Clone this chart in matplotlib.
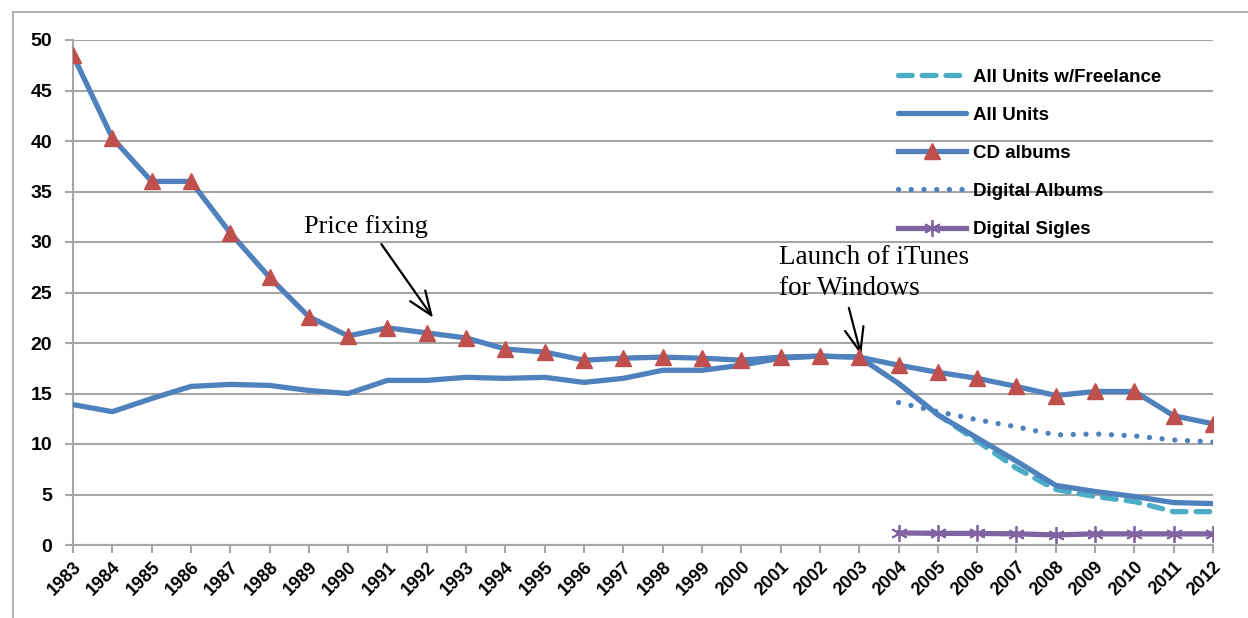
import matplotlib
matplotlib.use("Agg")
from matplotlib import pyplot as plt
from matplotlib.lines import Line2D
import numpy as np

years = list(range(1983, 2013))
cd_albums = [48.5, 40.3, 36.0, 36.0, 30.9, 26.5, 22.6, 20.7, 21.5, 21.0,
             20.5, 19.4, 19.1, 18.3, 18.5, 18.6, 18.5, 18.3, 18.6, 18.7,
             18.6, 17.8, 17.1, 16.5, 15.7, 14.8, 15.2, 15.2, 12.8, 12.0]
all_units = [13.9, 13.2, 14.5, 15.7, 15.9, 15.8, 15.3, 15.0, 16.3, 16.3,
             16.6, 16.5, 16.6, 16.1, 16.5, 17.3, 17.3, 17.8, 18.5, 18.7,
             18.6, 16.0, 12.9, 10.6, 8.3, 5.9, 5.3, 4.8, 4.2, 4.1]
years_dig = list(range(2004, 2013))
all_units_free = [16.0, 12.9, 10.3, 7.6, 5.5, 4.8, 4.3, 3.3, 3.3]
digital_albums = [14.1, 13.2, 12.4, 11.7, 10.9, 11.0, 10.8, 10.4, 10.2]
digital_singles = [1.2, 1.15, 1.15, 1.1, 1.0, 1.1, 1.1, 1.1, 1.1]

blue = "#4F81BD"
red = "#C0504D"
cyan = "#4BACC6"
purple = "#8064A2"
grid = "#A6A6A6"
sans = "Liberation Sans"
serif = "Liberation Serif"

fig = plt.figure(figsize=(12.48, 6.18), dpi=100)
ax = fig.add_axes([73 / 1248, 1 - 545 / 618, 1140 / 1248, 505 / 618])

# outer frame of the chart area
fig.add_artist(Line2D([13 / 1248, 1.0], [1 - 12 / 618, 1 - 12 / 618],
                      transform=fig.transFigure, color=grid, lw=1.2))
fig.add_artist(Line2D([13 / 1248, 13 / 1248], [0, 1 - 12 / 618],
                      transform=fig.transFigure, color=grid, lw=1.2))

lw = 3.8
ax.plot(years_dig, all_units_free, color=cyan, lw=lw,
        linestyle=(0, (2.6, 1.9)), dash_capstyle="round", zorder=3,
        label="All Units w/Freelance")
ax.plot(years, all_units, color=blue, lw=lw, solid_capstyle="round",
        zorder=4, label="All Units")
ax.plot(years, cd_albums, color=blue, lw=lw, marker="^", markersize=12,
        markerfacecolor=red, markeredgecolor=red, zorder=5, label="CD albums")
ax.plot(years_dig, digital_albums, color=blue, lw=lw,
        linestyle=(0, (0.01, 2.4)), dash_capstyle="round", zorder=3,
        label="Digital Albums")
ax.plot(years_dig, digital_singles, color=purple, lw=lw, marker=(6, 2, 0),
        markersize=12, markeredgecolor=purple, markeredgewidth=1.3, zorder=5,
        label="Digital Sigles")

ax.set_xlim(1983, 2012)
ax.set_ylim(0, 50)
ax.set_yticks(range(0, 51, 5))
ax.set_xticks(years)
ax.yaxis.grid(True, color=grid, lw=1.5)
ax.set_axisbelow(True)
for s in ["top", "right"]:
    ax.spines[s].set_visible(False)
for s in ["left", "bottom"]:
    ax.spines[s].set_color(grid)
    ax.spines[s].set_linewidth(1.5)
ax.tick_params(axis="both", direction="out", length=6, width=1.5, color=grid)
ax.tick_params(axis="y", pad=9)
ax.set_xticklabels([str(y) for y in years], rotation=45, ha="right",
                   rotation_mode="anchor", fontsize=13, fontweight="bold",
                   family=sans)
for lab in ax.get_yticklabels():
    lab.set_fontsize(14)
    lab.set_fontweight("bold")
    lab.set_family(sans)

leg = ax.legend(loc="upper left", bbox_to_anchor=(0.709, 0.977), frameon=False,
                handlelength=3.6, labelspacing=1.12, handletextpad=0.4,
                prop={"family": sans, "weight": "bold", "size": 13.5})

arrow = dict(arrowstyle="->,head_width=0.35,head_length=0.9",
             color="black", lw=1.6, shrinkA=3, shrinkB=0)
ax.annotate("Price fixing", xy=(1992.16, 22.5), xytext=(1990.45, 30.4),
            ha="center", va="bottom", fontsize=19, family=serif,
            arrowprops=dict(arrow, relpos=(0.59, 0.0)))
ax.annotate("Launch of iTunes\nfor Windows", xy=(2003.05, 18.8),
            xytext=(2000.95, 24.15), ha="left", va="bottom", fontsize=19.5,
            family=serif, linespacing=1.3,
            arrowprops=dict(arrow, relpos=(0.36, 0.0)),
            annotation_clip=False)

fig.savefig("out.png", dpi=100)
